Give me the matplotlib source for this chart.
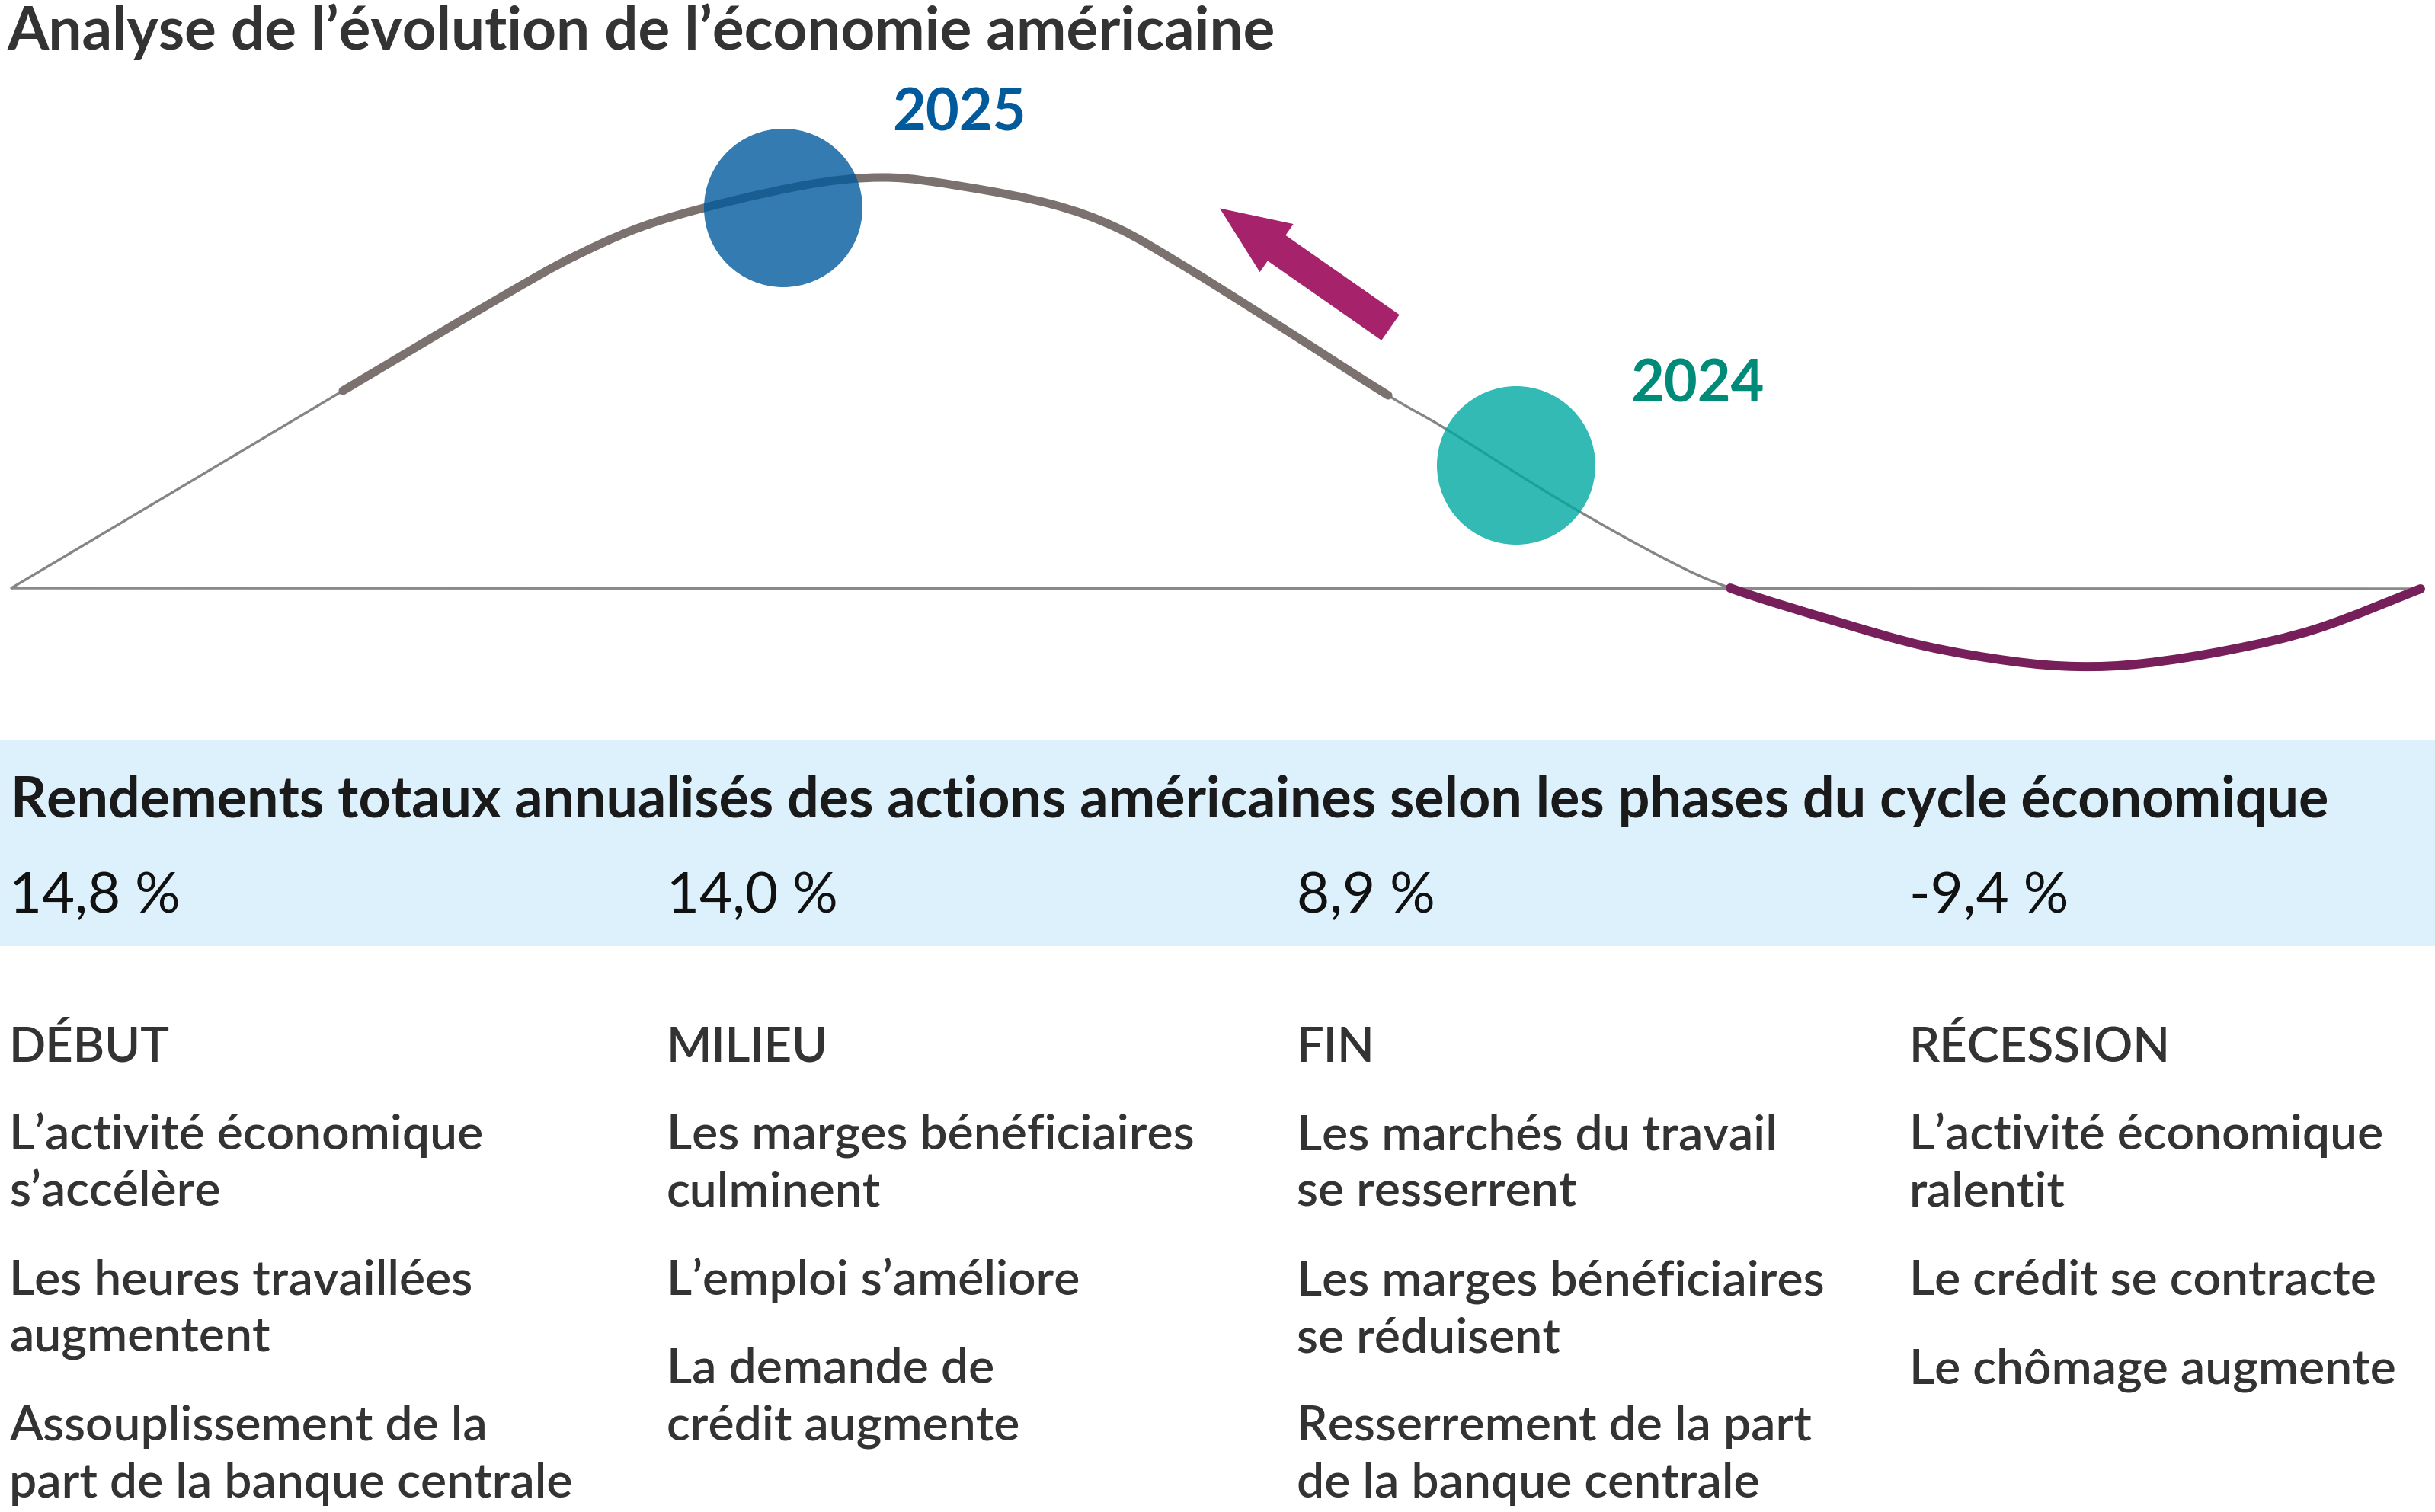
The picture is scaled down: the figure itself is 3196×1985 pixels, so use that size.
import numpy as np
import matplotlib
matplotlib.use("Agg")
import matplotlib.pyplot as plt
from matplotlib.path import Path
from matplotlib.patches import PathPatch, Rectangle, Circle, FancyArrow

plt.rcParams['font.family'] = ['Lato', 'DejaVu Sans']

# ---------------- data ----------------
title = "Analyse de l\u2019évolution de l\u2019économie américaine"
band_title = "Rendements totaux annualisés des actions américaines selon les phases du cycle économique"

phases = ["DÉBUT", "MILIEU", "FIN", "RÉCESSION"]
returns = [14.8, 14.0, 8.9, -9.4]
descriptions = [
    ["L\u2019activité économique\ns\u2019accélère",
     "Les heures travaillées\naugmentent",
     "Assouplissement de la\npart de la banque centrale"],
    ["Les marges bénéficiaires\nculminent",
     "L\u2019emploi s\u2019améliore",
     "La demande de\ncrédit augmente"],
    ["Les marchés du travail\nse resserrent",
     "Les marges bénéficiaires\nse réduisent",
     "Resserrement de la part\nde la banque centrale"],
    ["L\u2019activité économique\nralentit",
     "Le crédit se contracte",
     "Le chômage augmente"],
]

# schematic business-cycle curve (pixel space)
cycle_x = [15, 232, 450, 644, 759, 874, 1046, 1160, 1265, 1380, 1466, 1552, 1667,
           1822, 1896, 2050, 2184, 2271, 2411, 2526, 2640, 2727, 2813, 2927, 3042, 3177]
cycle_y = [772, 643, 513, 398, 334, 287, 245, 233, 245, 268, 299, 348, 420,
           519, 562, 658, 733, 772, 816, 848, 868, 875, 871, 853, 825, 773]
# which stretch of the curve is drawn in which style
segments = [(0, 2, "thin"), (2, 13, "thick"), (13, 17, "thin"), (17, 25, "recession")]

years = ["2025", "2024"]
year_centers = [(1028, 273), (1990, 611)]
year_label_pos = [(1259, 172), (2228, 528)]
year_colors = ["#005a9c", "#00a9a2"]
year_text_colors = ["#005a9c", "#008a78"]

# ---------------- figure ----------------
W, H = 3196, 1985
fig = plt.figure(figsize=(W / 100, H / 100), dpi=100)
ax = fig.add_axes([0, 0, 1, 1])
ax.set_xlim(0, W)
ax.set_ylim(H, 0)
ax.axis("off")
renderer = fig.canvas.get_renderer()


def fit_size(text, target_w, **kw):
    t = ax.text(0, 0, text, fontsize=50, **kw)
    w = t.get_window_extent(renderer).width
    t.remove()
    return 50.0 * target_w / w


# light blue band
ax.add_patch(Rectangle((0, 972), W, 270, facecolor="#dcf1fc", edgecolor="none", zorder=0))

# zero line
ax.plot([cycle_x[0], cycle_x[-1]], [cycle_y[0], cycle_y[-1]], color="#8a8a8a", lw=2.5,
        solid_capstyle="butt", zorder=1)

# smooth curve through the points (Catmull-Rom -> cubic Bezier)
P = np.column_stack([cycle_x, cycle_y]).astype(float)
n = len(P)


def bezier_path(i0, i1):
    verts = [P[i0]]
    codes = [Path.MOVETO]
    for i in range(i0, i1):
        pm = P[max(i - 1, 0)]
        p0 = P[i]
        p1 = P[i + 1]
        p2 = P[min(i + 2, n - 1)]
        c1 = p0 + (p1 - pm) / 6.0
        c2 = p1 - (p2 - p0) / 6.0
        verts += [c1, c2, p1]
        codes += [Path.CURVE4] * 3
    return Path(verts, codes)


styles = {
    "thin": dict(edgecolor="#858585", lw=2.4, zorder=2),
    "thick": dict(edgecolor="#7b716e", lw=8.0, zorder=3),
    "recession": dict(edgecolor="#771f5a", lw=8.6, zorder=3),
}
for i0, i1, st in segments:
    ax.add_patch(PathPatch(bezier_path(i0, i1), facecolor="none", capstyle="round",
                           joinstyle="round", **styles[st]))

# year circles and labels
ysize = fit_size("2025", 176, fontweight="bold")
for yr, c, lp, col, tcol in zip(years, year_centers, year_label_pos, year_colors, year_text_colors):
    ax.add_patch(Circle(c, 104, facecolor=col, edgecolor="none", alpha=0.8, zorder=4))
    ax.text(lp[0], lp[1], yr, fontsize=ysize, fontweight="bold", color=tcol,
            ha="center", va="baseline", zorder=5)

# direction arrow (2024 -> 2025)
tail = np.array([1825, 430])
tip = np.array([1601, 273.5])
ax.add_patch(FancyArrow(tail[0], tail[1], tip[0] - tail[0], tip[1] - tail[1], width=41,
                        head_width=77, head_length=91, length_includes_head=True,
                        facecolor="#a6226b", edgecolor="none", zorder=5))

# titles
tsize = fit_size(title, 1670, fontweight="bold")
ax.text(9, 65, title, fontsize=tsize, fontweight="bold", color="#333333",
        ha="left", va="baseline")
bsize = fit_size(band_title, 3051, fontweight="bold")
ax.text(14, 1073, band_title, fontsize=bsize, fontweight="bold", color="#1a1a1a",
        ha="left", va="baseline")

# columns
col_x = [12, 875, 1702, 2506]
txt_w = "semibold"
psize = fit_size("14,8 %", 225, fontweight="normal")
hsize = fit_size("RÉCESSION", 344, fontweight=txt_w)
isize = fit_size("L\u2019activité économique", 623, fontweight=txt_w)
line_pitch = 75
item_gap = 116
for x, ph, r, items in zip(col_x, phases, returns, descriptions):
    ax.text(x, 1198, f"{r:.1f}".replace(".", ",") + " %", fontsize=psize,
            fontweight="normal", color="#111111", ha="left", va="baseline")
    ax.text(x, 1394, ph, fontsize=hsize, fontweight=txt_w, color="#333333",
            ha="left", va="baseline")
    y = 1509
    for it in items:
        lines = it.split("\n")
        for k, ln in enumerate(lines):
            ax.text(x, y + k * line_pitch, ln, fontsize=isize, fontweight=txt_w,
                    color="#333333", ha="left", va="baseline")
        y += (len(lines) - 1) * line_pitch + item_gap

fig.savefig("out.png", dpi=100, facecolor="white")
